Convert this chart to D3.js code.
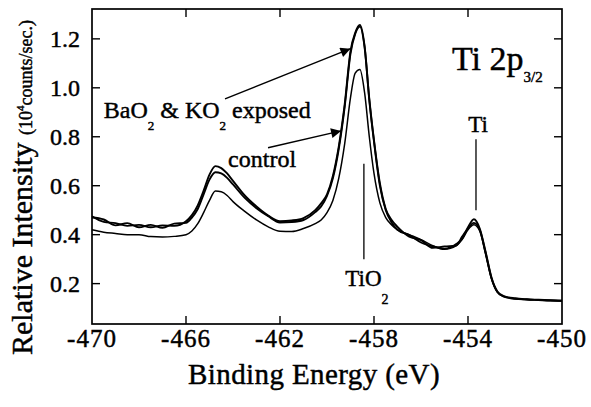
<!DOCTYPE html>
<html>
<head>
<meta charset="utf-8">
<script src="https://cdn.jsdelivr.net/npm/d3@7"></script>
</head>
<body style="margin:0; background:#fff">
<svg id="chart" width="591" height="407"></svg>
<script>
"use strict";
// binding energy grid (eV), shared by all three spectra
var energy = [-470, -469.5, -469, -468.5, -468, -467.5, -467, -466.5, -466, -465.75,
  -465.5, -465.25, -465, -464.75, -464.5, -464.25, -464, -463.5, -463, -462.5,
  -462, -461.5, -461, -460.5, -460.25, -460, -459.75, -459.5, -459.25, -459,
  -458.8, -458.6, -458.4, -458.2, -458, -457.75, -457.5, -457.25, -457, -456.5,
  -456, -455.5, -455, -454.5, -454.25, -454, -453.75, -453.5, -453.25, -453,
  -452.75, -452.5, -452, -451.5, -451, -450.5, -450];
// BaO2 exposed
var exposedA = [0.475, 0.452, 0.447, 0.436, 0.44, 0.43, 0.438, 0.436, 0.455, 0.48,
  0.52, 0.58, 0.645, 0.68, 0.672, 0.65, 0.62, 0.56, 0.515, 0.478,
  0.455, 0.458, 0.468, 0.50, 0.528, 0.565, 0.64, 0.76, 0.93, 1.15,
  1.225, 1.257, 1.17, 0.95, 0.78, 0.60, 0.50, 0.45, 0.42, 0.398,
  0.368, 0.352, 0.343, 0.362, 0.383, 0.43, 0.463, 0.425, 0.33, 0.225,
  0.168, 0.15, 0.14, 0.136, 0.134, 0.132, 0.13];
// KO2 exposed
var exposedB = [0.47, 0.462, 0.438, 0.447, 0.43, 0.44, 0.428, 0.445, 0.448, 0.47,
  0.505, 0.565, 0.625, 0.655, 0.65, 0.632, 0.605, 0.55, 0.508, 0.475,
  0.45, 0.452, 0.46, 0.492, 0.515, 0.558, 0.63, 0.75, 0.92, 1.14,
  1.22, 1.25, 1.165, 0.955, 0.785, 0.61, 0.505, 0.46, 0.432, 0.392,
  0.378, 0.346, 0.352, 0.355, 0.392, 0.425, 0.448, 0.42, 0.325, 0.222,
  0.166, 0.148, 0.138, 0.135, 0.133, 0.131, 0.13];
var control = [0.42, 0.41, 0.405, 0.40, 0.40, 0.392, 0.39, 0.393, 0.40, 0.415,
  0.445, 0.49, 0.54, 0.578, 0.575, 0.56, 0.535, 0.495, 0.46, 0.432,
  0.414, 0.413, 0.425, 0.445, 0.46, 0.49, 0.54, 0.63, 0.77, 0.96,
  1.06, 1.075, 0.98, 0.80, 0.65, 0.53, 0.47, 0.44, 0.42, 0.40,
  0.38, 0.355, 0.34, 0.355, 0.38, 0.42, 0.44, 0.415, 0.32, 0.22,
  0.165, 0.148, 0.138, 0.135, 0.133, 0.131, 0.13];

var xTicks = [-470, -466, -462, -458, -454, -450];
var yTicks = [0.2, 0.4, 0.6, 0.8, 1.0, 1.2];

var svg = d3.select('#chart');
var plotL = 92, plotR = 562, plotT = 9, plotB = 324;
var x = d3.scaleLinear().domain([-470, -450]).range([plotL, plotR]);
var y = d3.scaleLinear().domain([0.035, 1.322]).range([plotB, plotT]);

// frame
svg.append('rect')
  .attr('x', plotL).attr('y', plotT)
  .attr('width', plotR - plotL).attr('height', plotB - plotT)
  .attr('fill', 'none').attr('stroke', '#000').attr('stroke-width', 1.7);

// inward ticks, all four sides
var tk = 8;
var innerX = xTicks.slice(1, -1);
var ticks = svg.append('g').attr('stroke', '#000').attr('stroke-width', 1.4);
ticks.selectAll('line.xb').data(innerX).enter().append('line')
  .attr('x1', function (d) { return x(d); }).attr('x2', function (d) { return x(d); })
  .attr('y1', plotB).attr('y2', plotB - tk);
ticks.selectAll('line.xt').data(innerX).enter().append('line')
  .attr('x1', function (d) { return x(d); }).attr('x2', function (d) { return x(d); })
  .attr('y1', plotT).attr('y2', plotT + tk);
ticks.selectAll('line.yl').data(yTicks).enter().append('line')
  .attr('x1', plotL).attr('x2', plotL + tk)
  .attr('y1', function (d) { return y(d); }).attr('y2', function (d) { return y(d); });
ticks.selectAll('line.yr').data(yTicks).enter().append('line')
  .attr('x1', plotR).attr('x2', plotR - tk)
  .attr('y1', function (d) { return y(d); }).attr('y2', function (d) { return y(d); });

// text group, slightly stroked to mimic the heavy scanned print
var txt = svg.append('g').attr('fill', '#000').attr('stroke', '#000').attr('stroke-width', 0.45);
var addText = function (parent) {
  return parent.append('text').style('font-family', '"Liberation Serif"');
};

// tick labels
xTicks.forEach(function (d) {
  addText(txt).attr('x', x(d)).attr('y', 347)
    .attr('text-anchor', 'middle').style('font-size', '25px').style('letter-spacing', '1px')
    .text(d);
});
yTicks.forEach(function (d) {
  addText(txt).attr('x', 80).attr('y', y(d) + 8)
    .attr('text-anchor', 'end').style('font-size', '24px')
    .text(d.toFixed(1));
});

// axis titles
addText(txt).attr('x', 314).attr('y', 384)
  .attr('text-anchor', 'middle').style('font-size', '29px').style('letter-spacing', '0.4px')
  .text('Binding Energy (eV)');
var yt = addText(txt).attr('transform', 'translate(32,355) rotate(-90)');
yt.append('tspan').style('font-size', '30px').text('Relative Intensity ');
yt.append('tspan').style('font-size', '18px').text('(10');
yt.append('tspan').style('font-size', '11px').attr('dy', -8).text('4');
yt.append('tspan').style('font-size', '18px').attr('dy', 8).text('counts/sec.)');

// spectra
var line = function (vals) {
  return d3.line()
    .x(function (d, i) { return x(energy[i]); })
    .y(function (d) { return y(d); })
    .curve(d3.curveMonotoneX)(vals);
};
[{ v: control, w: 1.5 }, { v: exposedB, w: 1.9 }, { v: exposedA, w: 1.9 }].forEach(function (s) {
  svg.append('path').attr('d', line(s.v))
    .attr('fill', 'none').attr('stroke', '#000').attr('stroke-width', s.w);
});

// annotations (in data units)
var defs = svg.append('defs');
defs.append('marker').attr('id', 'head')
  .attr('viewBox', '0 0 10 10').attr('refX', 10).attr('refY', 5)
  .attr('markerWidth', 14).attr('markerHeight', 10).attr('markerUnits', 'userSpaceOnUse')
  .attr('orient', 'auto')
  .append('path').attr('d', 'M0,0L10,5L0,10Z').attr('fill', '#000');

var arrows = [
  { from: [-464.34, 0.955], to: [-459.0, 1.16] },
  { from: [-462.51, 0.755], to: [-459.4, 0.824] }
];
arrows.forEach(function (a) {
  svg.append('line')
    .attr('x1', x(a.from[0])).attr('y1', y(a.from[1]))
    .attr('x2', x(a.to[0])).attr('y2', y(a.to[1]))
    .attr('stroke', '#000').attr('stroke-width', 1.5)
    .attr('marker-end', 'url(#head)');
});

// peak markers
var markers = [
  { e: -458.43, y1: 0.69, y2: 0.30 },
  { e: -453.66, y1: 0.79, y2: 0.50 }
];
markers.forEach(function (m) {
  svg.append('line')
    .attr('x1', x(m.e)).attr('x2', x(m.e))
    .attr('y1', y(m.y1)).attr('y2', y(m.y2))
    .attr('stroke', '#000').attr('stroke-width', 1.3);
});

var lab = addText(txt).attr('x', x(-469.5)).attr('y', y(0.877)).style('font-size', '24px');
lab.append('tspan').text('BaO');
lab.append('tspan').style('font-size', '13px').attr('dy', 12).text('2');
lab.append('tspan').attr('dy', -12).text(' & KO');
lab.append('tspan').style('font-size', '13px').attr('dy', 12).text('2');
lab.append('tspan').attr('dy', -12).text(' exposed');

addText(txt).attr('x', x(-464.21)).attr('y', y(0.678))
  .style('font-size', '24px').text('control');

var tio = addText(txt).attr('x', x(-458.3)).attr('y', y(0.19))
  .attr('text-anchor', 'middle').style('font-size', '23px');
tio.append('tspan').text('TiO');
tio.append('tspan').style('font-size', '14px').attr('dy', 18).text('2');

addText(txt).attr('x', x(-453.57)).attr('y', y(0.82))
  .attr('text-anchor', 'middle').style('font-size', '23px').text('Ti');

var tt = addText(txt).attr('x', x(-454.68)).attr('y', y(1.073)).style('font-size', '34px');
tt.append('tspan').text('Ti 2p');
tt.append('tspan').style('font-size', '15px').attr('dy', 12).text('3/2');
</script>
</body>
</html>
